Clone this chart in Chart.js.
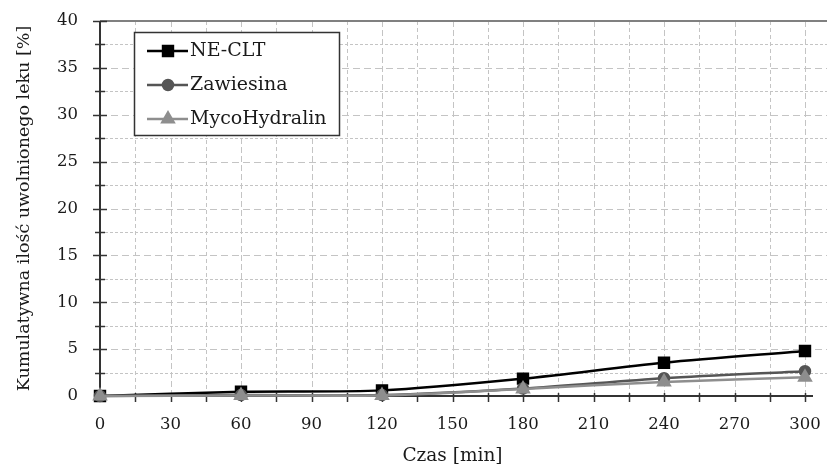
<!DOCTYPE html>
<html>
<head>
<meta charset="utf-8">
<script src="https://cdn.jsdelivr.net/npm/chart.js@4.4.0/dist/chart.umd.min.js"></script>
<style>
    html, body { margin: 0; padding: 0; background: #fff; }
    #wrap { width: 827px; height: 469px; position: relative; }
</style>
</head>
<body>
<div id="wrap"><canvas id="chart"></canvas></div>
<script>
// Data
const czas = [0, 60, 120, 180, 240, 300];
const neClt = [0, 0.45, 0.6, 1.85, 3.55, 4.8];
const zawiesina = [0, 0.1, 0.1, 0.8, 1.9, 2.65];
const mycoHydralin = [0, 0.05, 0.05, 0.75, 1.5, 2.0];
const seriesNames = ['NE-CLT', 'Zawiesina', 'MycoHydralin'];

const FONT = 'DejaVu Serif';
const TEXT = '#1a1a1a';

const toPoints = (vals) => vals.map((v, i) => ({ x: czas[i], y: v }));

// grid, axes and ticks (drawn from the scales)
const frame = {
    id: 'frame',
    beforeDatasetsDraw(chart) {
        const { ctx, chartArea: a, scales: { x, y } } = chart;
        ctx.save();
        ctx.strokeStyle = '#c4c4c4';
        ctx.lineWidth = 1;
        for (let v = 15; v <= 300; v += 15) {
            const px = Math.round(x.getPixelForValue(v)) + 0.5;
            ctx.setLineDash(v % 30 ? [4, 3] : [6, 3]);
            ctx.beginPath(); ctx.moveTo(px, a.top); ctx.lineTo(px, a.bottom); ctx.stroke();
        }
        for (let v = 2.5; v < 40; v += 2.5) {
            const py = Math.round(y.getPixelForValue(v)) + 0.5;
            ctx.setLineDash(v % 5 ? [3, 2] : [7, 4]);
            ctx.beginPath(); ctx.moveTo(a.left, py); ctx.lineTo(a.right + 22, py); ctx.stroke();
        }
        ctx.setLineDash([]);
        // top border
        ctx.strokeStyle = '#808080';
        ctx.lineWidth = 2;
        ctx.beginPath(); ctx.moveTo(a.left, a.top); ctx.lineTo(a.right + 22, a.top); ctx.stroke();
        // axis lines
        ctx.strokeStyle = '#333';
        ctx.beginPath(); ctx.moveTo(a.left, a.top); ctx.lineTo(a.left, a.bottom); ctx.stroke();
        ctx.beginPath(); ctx.moveTo(a.left, a.bottom); ctx.lineTo(a.right + 8, a.bottom); ctx.stroke();
        // tick marks
        ctx.lineWidth = 1.5;
        for (let v = 2.5; v <= 40; v += 2.5) {
            const py = Math.round(y.getPixelForValue(v)) + 0.5;
            const h = v % 5 ? 5 : 7;
            ctx.beginPath(); ctx.moveTo(a.left - h, py); ctx.lineTo(a.left + h, py); ctx.stroke();
        }
        for (let v = 15; v <= 300; v += 15) {
            const px = Math.round(x.getPixelForValue(v)) + 0.5;
            ctx.beginPath(); ctx.moveTo(px, a.bottom - 3); ctx.lineTo(px, a.bottom + 6); ctx.stroke();
        }
        ctx.restore();
    }
};

// boxed legend with line + marker samples
const boxLegend = {
    id: 'boxLegend',
    afterDraw(chart) {
        const ctx = chart.ctx;
        ctx.save();
        ctx.fillStyle = '#fff';
        ctx.strokeStyle = '#333';
        ctx.lineWidth = 1.5;
        ctx.fillRect(134.5, 32.5, 205, 103);
        ctx.strokeRect(134.5, 32.5, 205, 103);
        chart.data.datasets.forEach((ds, i) => {
            const yy = 51 + i * 34;
            ctx.strokeStyle = ds.borderColor;
            ctx.lineWidth = ds.borderWidth;
            ctx.beginPath(); ctx.moveTo(147, yy); ctx.lineTo(188, yy); ctx.stroke();
            ctx.fillStyle = ds.pointBackgroundColor;
            ctx.strokeStyle = ds.pointBorderColor;
            Chart.helpers.drawPoint(ctx, { pointStyle: ds.pointStyle, radius: ds.pointRadius, rotation: 0, borderWidth: 1 }, 168, yy);
            ctx.fillStyle = TEXT;
            ctx.font = '19px "' + FONT + '"';
            ctx.textBaseline = 'middle';
            ctx.fillText(ds.label, 190, yy);
        });
        ctx.restore();
    }
};

const styles = [
    { color: '#000000', pointStyle: 'rect', r: 7, order: 3 },
    { color: '#555555', pointStyle: 'circle', r: 5, order: 2 },
    { color: '#8e8e8e', pointStyle: 'triangle', r: 6.5, order: 1 }
];

const seriesData = [neClt, zawiesina, mycoHydralin];

new Chart(document.getElementById('chart'), {
    type: 'line',
    data: {
        datasets: seriesData.map((vals, i) => ({
            label: seriesNames[i],
            data: toPoints(vals),
            borderColor: styles[i].color,
            backgroundColor: styles[i].color,
            pointBackgroundColor: styles[i].color,
            pointBorderColor: styles[i].color,
            pointStyle: styles[i].pointStyle,
            pointRadius: styles[i].r,
            borderWidth: 2.5,
            tension: 0.3,
            clip: false,
            order: styles[i].order
        }))
    },
    options: {
        responsive: true,
        maintainAspectRatio: false,
        animation: false,
        layout: { padding: { top: 21, right: 22, left: 0, bottom: 0 } },
        plugins: {
            legend: { display: false },
            tooltip: { enabled: false }
        },
        scales: {
            x: {
                type: 'linear',
                min: 0,
                max: 300,
                afterFit: (s) => { s.height = 73; s.paddingLeft = 0; s.paddingRight = 0; },
                grid: { display: false, drawTicks: false },
                border: { display: false },
                ticks: {
                    stepSize: 30,
                    padding: 19,
                    color: TEXT,
                    font: { family: FONT, size: 16.5 }
                },
                title: {
                    display: true,
                    text: 'Czas [min]',
                    color: TEXT,
                    font: { family: FONT, size: 18.5 },
                    padding: { top: 0, bottom: 2 }
                }
            },
            y: {
                min: 0,
                max: 40,
                afterFit: (s) => { s.width = 100; s.paddingTop = 0; s.paddingBottom = 0; },
                grid: { display: false, drawTicks: false },
                border: { display: false },
                ticks: {
                    stepSize: 5,
                    padding: 22,
                    color: TEXT,
                    font: { family: FONT, size: 16.5 }
                },
                title: {
                    display: true,
                    text: 'Kumulatywna ilość uwolnionego leku [%]',
                    color: TEXT,
                    font: { family: FONT, size: 17.5 },
                    padding: { top: 13.5, bottom: 0 }
                }
            }
        }
    },
    plugins: [frame, boxLegend]
});
</script>
</body>
</html>
